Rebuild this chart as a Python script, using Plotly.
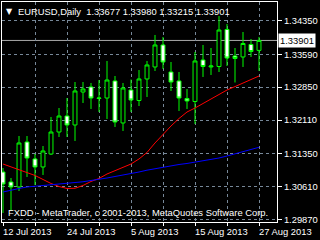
import plotly.graph_objects as go

FONT = "Liberation Sans"

dates = ["2013-07-12", "2013-07-15", "2013-07-16", "2013-07-17", "2013-07-18", "2013-07-19",
         "2013-07-22", "2013-07-23", "2013-07-24", "2013-07-25", "2013-07-26", "2013-07-29",
         "2013-07-30", "2013-07-31", "2013-08-01", "2013-08-02", "2013-08-05", "2013-08-06",
         "2013-08-07", "2013-08-08", "2013-08-09", "2013-08-12", "2013-08-13", "2013-08-14",
         "2013-08-15", "2013-08-16", "2013-08-19", "2013-08-20", "2013-08-21", "2013-08-22",
         "2013-08-23", "2013-08-26", "2013-08-27"]

open_ = [1.30941, 1.30716, 1.30604, 1.31616, 1.31234, 1.31054, 1.31346, 1.31841, 1.32201,
         1.31999, 1.32741, 1.32854, 1.32595, 1.32606, 1.32989, 1.32044, 1.32786, 1.32550,
         1.33034, 1.33304, 1.33799, 1.33191, 1.32989, 1.32595, 1.32527, 1.33461, 1.33304,
         1.33315, 1.34148, 1.33551, 1.33529, 1.33810, 1.33677]
high = [1.31031, 1.30806, 1.31751, 1.31751, 1.31346, 1.31526, 1.32179, 1.32381, 1.32606,
        1.32966, 1.32966, 1.32944, 1.33011, 1.33439, 1.33101, 1.32944, 1.33022, 1.33236,
        1.33439, 1.34024, 1.33979, 1.33416, 1.33191, 1.32809, 1.33641, 1.33799, 1.33731,
        1.34451, 1.34271, 1.33731, 1.34091, 1.33934, 1.33980]
low = [1.30019, 1.30064, 1.30514, 1.30829, 1.30649, 1.30874, 1.31324, 1.31729, 1.31729,
       1.31639, 1.32494, 1.32359, 1.32291, 1.32134, 1.31954, 1.31864, 1.32291, 1.32426,
       1.32629, 1.33214, 1.33259, 1.32764, 1.32314, 1.32359, 1.32021, 1.33079, 1.33124,
       1.33191, 1.33326, 1.32955, 1.33304, 1.33529, 1.33215]
close = [1.30671, 1.30604, 1.31594, 1.31256, 1.31054, 1.31414, 1.31841, 1.32201, 1.31999,
         1.32764, 1.32809, 1.32606, 1.32606, 1.33011, 1.32066, 1.32831, 1.32561, 1.33034,
         1.33349, 1.33799, 1.33416, 1.32966, 1.32606, 1.32539, 1.33439, 1.33315, 1.33326,
         1.34136, 1.33506, 1.33495, 1.33832, 1.33652, 1.33901]

ma_red = [1.31121, 1.31054, 1.30986, 1.30930, 1.30863, 1.30773, 1.30683, 1.30615, 1.30570,
          1.30575, 1.30638, 1.30728, 1.30795, 1.30896, 1.30975, 1.31054, 1.31121, 1.31234,
          1.31380, 1.31594, 1.31796, 1.31976, 1.32145, 1.32291, 1.32381, 1.32478, 1.32582,
          1.32687, 1.32786, 1.32863, 1.32941, 1.33020, 1.33101]
ma_blue = [1.30491, 1.30536, 1.30570, 1.30604, 1.30620, 1.30631, 1.30649, 1.30678, 1.30694,
           1.30705, 1.30721, 1.30750, 1.30773, 1.30806, 1.30840, 1.30869, 1.30896, 1.30941,
           1.30982, 1.31016, 1.31054, 1.31088, 1.31110, 1.31133, 1.31162, 1.31189, 1.31222,
           1.31256, 1.31301, 1.31346, 1.31391, 1.31436, 1.31497]

price_ticks = [1.29870, 1.30610, 1.31350, 1.32110, 1.32850, 1.33590, 1.34350]
price_labels = ["1.29870", "1.30610", "1.31350", "1.32110", "1.32850", "1.33590", "1.34350"]

grid_dates = ["2013-07-12", "2013-07-18", "2013-07-24", "2013-07-30", "2013-08-05",
              "2013-08-09", "2013-08-15", "2013-08-21", "2013-08-27"]
label_dates = ["2013-07-12", "2013-07-24", "2013-08-05", "2013-08-15", "2013-08-27"]
label_texts = ["12 Jul 2013", "24 Jul 2013", "5 Aug 2013", "15 Aug 2013", "27 Aug 2013"]

title_text = "EURUSD,Daily\u00a0 1.33677 1.33980 1.33215 1.33901"
copyright_text = "FXDD - MetaTrader, c 2001-2013, MetaQuotes Software Corp."

GREEN = "#00FF00"
GRID = "#778899"
FS = 9.4

fig = go.Figure()
fig.add_trace(go.Candlestick(
    x=dates, open=open_, high=high, low=low, close=close,
    increasing=dict(line=dict(color=GREEN, width=1), fillcolor="#000000"),
    decreasing=dict(line=dict(color=GREEN, width=1), fillcolor="#FFFFFF"),
    whiskerwidth=0, showlegend=False, hoverinfo="skip"))
fig.add_trace(go.Scatter(x=dates, y=ma_red, mode="lines",
                         line=dict(color="#FF0000", width=1), hoverinfo="skip"))
fig.add_trace(go.Scatter(x=dates, y=ma_blue, mode="lines",
                         line=dict(color="#0000FF", width=1), hoverinfo="skip"))

fig.add_shape(type="line", xref="paper", x0=0, x1=1, yref="y", y0=close[-1], y1=close[-1],
              line=dict(color="#A8A8A8", width=1), layer="below")

fig.update_layout(
    width=320, height=240,
    margin=dict(l=2, r=43, t=2, b=18),
    paper_bgcolor="#000000", plot_bgcolor="#000000",
    showlegend=False,
    font=dict(family=FONT, size=FS, color="#FFFFFF"),
    xaxis=dict(type="category", range=[-0.125, 34.25], rangeslider=dict(visible=False),
               tickmode="array", tickvals=grid_dates, showticklabels=False,
               showgrid=True, gridcolor=GRID, griddash="3px,3px", gridwidth=1,
               showline=True, linecolor="#FFFFFF", linewidth=1, mirror=True,
               ticks="outside", ticklen=3, tickcolor="#FFFFFF", zeroline=False),
    yaxis=dict(side="right", range=[1.29816, 1.34766], tickmode="array",
               tickvals=price_ticks, ticktext=price_labels,
               showgrid=True, gridcolor=GRID, griddash="3px,3px", gridwidth=1,
               showline=True, linecolor="#FFFFFF", linewidth=1, mirror=True,
               ticks="outside", ticklen=4, tickcolor="#FFFFFF",
               tickfont=dict(family=FONT, size=FS, color="#FFFFFF"), zeroline=False),
)

for d, t in zip(label_dates, label_texts):
    fig.add_annotation(x=d, xref="x", y=0, yref="paper", text=t, showarrow=False,
                       xanchor="left", yanchor="top", xshift=-2, yshift=-2,
                       font=dict(family=FONT, size=FS, color="#FFFFFF"))

fig.add_annotation(x=0, xref="paper", y=1, yref="paper", text="▼", showarrow=False,
                   xanchor="left", yanchor="top", xshift=2, yshift=-3,
                   font=dict(family="DejaVu Sans", size=8, color="#FFFFFF"))
fig.add_annotation(x=0, xref="paper", y=1, yref="paper", text=title_text, showarrow=False,
                   xanchor="left", yanchor="top", xshift=14, yshift=-2,
                   font=dict(family=FONT, size=FS, color="#FFFFFF"))
fig.add_annotation(x=0, xref="paper", y=0, yref="paper", text=copyright_text, showarrow=False,
                   xanchor="left", yanchor="bottom", xshift=4, yshift=2,
                   font=dict(family=FONT, size=FS, color="#FFFFFF"))
fig.add_annotation(x=1, xref="paper", y=close[-1], yref="y", text=f"{close[-1]:.5f}",
                   showarrow=False, xanchor="left", xshift=1, bgcolor="#FFFFFF",
                   borderpad=1, font=dict(family=FONT, size=FS, color="#000000"))

fig.write_html("out.html")
